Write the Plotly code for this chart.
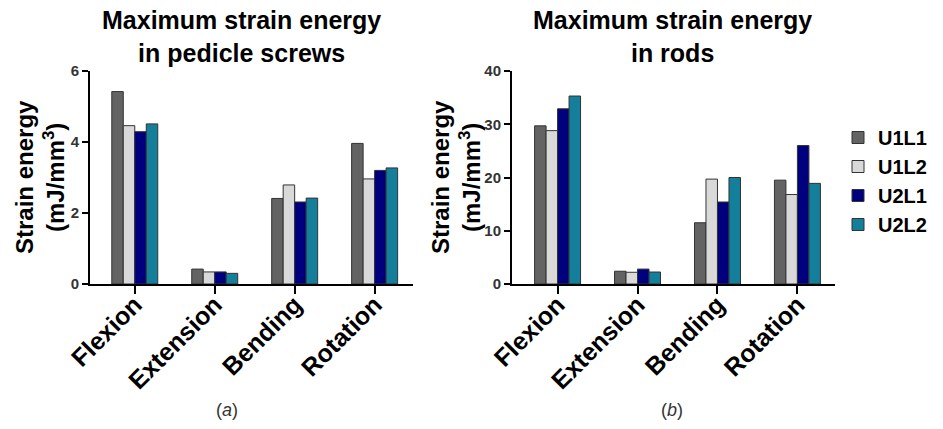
import plotly.graph_objects as go

# Loading cases and fixation configurations
categories = ["Flexion", "Extension", "Bending", "Rotation"]
configs = ["U1L1", "U1L2", "U2L1", "U2L2"]
colors = ["#636363", "#d9d9d9", "#00007f", "#137f9a"]

# Maximum strain energy in pedicle screws (mJ/mm^3)
screws_U1L1 = [5.42, 0.42, 2.41, 3.96]
screws_U1L2 = [4.46, 0.34, 2.79, 2.96]
screws_U2L1 = [4.29, 0.34, 2.31, 3.20]
screws_U2L2 = [4.51, 0.30, 2.42, 3.27]

# Maximum strain energy in rods (mJ/mm^3)
rods_U1L1 = [29.7, 2.4, 11.5, 19.5]
rods_U1L2 = [28.8, 2.2, 19.7, 16.8]
rods_U2L1 = [32.9, 2.8, 15.4, 26.0]
rods_U2L2 = [35.3, 2.25, 20.0, 18.9]

screws = [screws_U1L1, screws_U1L2, screws_U2L1, screws_U2L2]
rods = [rods_U1L1, rods_U1L2, rods_U2L1, rods_U2L2]

FONT = "Liberation Sans, Arial, sans-serif"
W, H = 943, 429

fig = go.Figure()
for name, col, s_vals, r_vals in zip(configs, colors, screws, rods):
    fig.add_trace(go.Bar(x=categories, y=s_vals, name=name, marker_color=col,
                         marker_line=dict(color="#333333", width=1),
                         xaxis="x", yaxis="y", legendgroup=name, showlegend=True))
    fig.add_trace(go.Bar(x=categories, y=r_vals, name=name, marker_color=col,
                         marker_line=dict(color="#333333", width=1),
                         xaxis="x2", yaxis="y2", legendgroup=name, showlegend=False))

y_dom = [1 - 284 / H, 1 - 71 / H]

axis_common = dict(showline=True, linecolor="black", linewidth=2, ticks="outside",
                   tickcolor="black", tickwidth=2, showgrid=False, zeroline=False,
                   automargin=False)

xaxis_common = dict(axis_common, ticklen=8, tickangle=-45, ticklabelstandoff=-14,
                    tickfont=dict(family=FONT, size=25, color="black", weight="bold"))
yaxis_common = dict(axis_common, ticklen=6,
                    tickfont=dict(family=FONT, size=15, color="#333333", weight="bold"))

fig.update_layout(
    width=W, height=H,
    margin=dict(l=0, r=0, t=0, b=0, autoexpand=False),
    paper_bgcolor="white", plot_bgcolor="white",
    barmode="group", bargap=0.425, bargroupgap=0,
    xaxis=dict(xaxis_common, domain=[90 / W, 413 / W], range=[-0.56, 3.48], anchor="y"),
    yaxis=dict(yaxis_common, domain=y_dom, range=[0, 6], tickvals=[0, 2, 4, 6], anchor="x"),
    xaxis2=dict(xaxis_common, domain=[512 / W, 835 / W], range=[-0.57, 3.47], anchor="y2"),
    yaxis2=dict(yaxis_common, domain=y_dom, range=[0, 40], tickvals=[0, 10, 20, 30, 40], anchor="x2"),
    legend=dict(x=838 / W, y=1 - 118 / H, xanchor="left", yanchor="top",
                font=dict(family=FONT, size=20, color="black", weight="bold"),
                tracegroupgap=0, bgcolor="rgba(0,0,0,0)", itemwidth=30),
    showlegend=True,
)

# Panel titles
for xc, txt in [(242, "Maximum strain energy<br>in pedicle screws"),
                (672, "Maximum strain energy<br>in rods")]:
    fig.add_annotation(x=xc / W, y=1 - 36 / H, xref="paper", yref="paper",
                       text=txt, showarrow=False, xanchor="center", yanchor="middle",
                       font=dict(family=FONT, size=25, color="black", weight="bold"))

# Y-axis titles
for xc in [40, 456]:
    fig.add_annotation(x=xc / W, y=1 - 177 / H, xref="paper", yref="paper",
                       text="Strain energy<br>(mJ/mm<sup>3</sup>)", textangle=-90,
                       showarrow=False, xanchor="center", yanchor="middle",
                       font=dict(family=FONT, size=24, color="black", weight="bold"))

# Sub-figure labels
for xc, lab in [(227, "(<i>a</i>)"), (672, "(<i>b</i>)")]:
    fig.add_annotation(x=xc / W, y=1 - 410 / H, xref="paper", yref="paper",
                       text=lab, showarrow=False, xanchor="center", yanchor="middle",
                       font=dict(family=FONT, size=18, color="#333333"))

fig.write_html("out.html")
